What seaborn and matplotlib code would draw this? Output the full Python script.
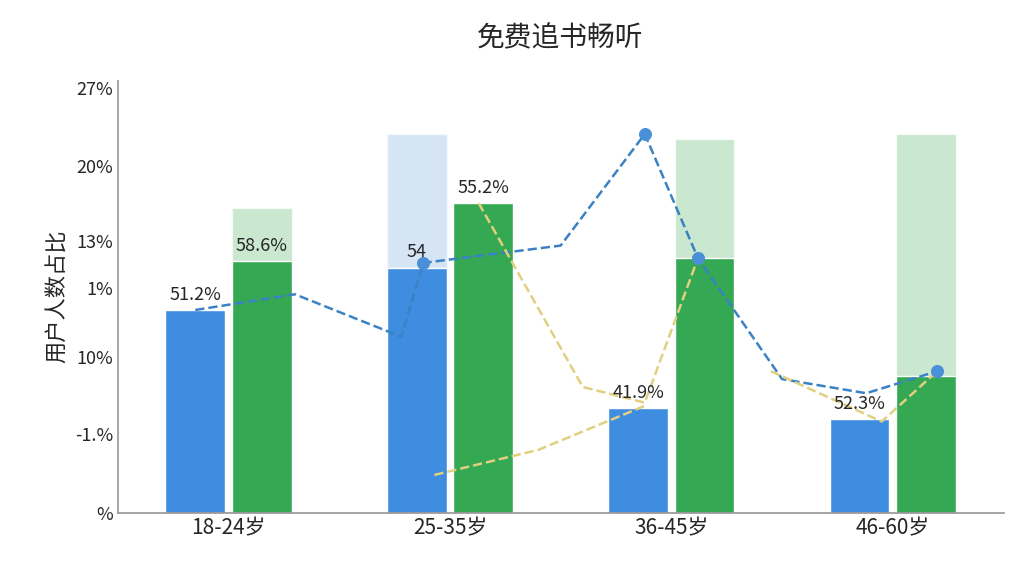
import matplotlib
matplotlib.use("Agg")
import matplotlib.pyplot as plt
import seaborn as sns
import numpy as np
import pandas as pd

sns.set_theme(style="white")
plt.rcParams['font.family'] = ['Noto Sans CJK SC', 'DejaVu Sans']

categories = ["18-24岁", "25-35岁", "36-45岁", "46-60岁"]
blue_vals = [12.9, 15.6, 6.65, 5.96]
green_vals = [16.0, 19.7, 16.2, 8.7]
blue_bg = [0, 24.1, 0, 0]
green_bg = [19.4, 0, 23.8, 24.1]
blue_labels = ["51.2%", "54", "41.9%", "52.3%"]
green_labels = ["58.6%", "55.2%", "", ""]
ytick_pos = [0, 5.0, 9.9, 14.3, 17.3, 22.05, 27]
ytick_labels = ["%", "-1.%", "10%", "1%", "13%", "20%", "27%"]
blue_line_x = [-0.15, 0.3, 0.78, 0.88, 1.5, 1.88, 2.12, 2.5, 2.88, 3.2]
blue_line_y = [12.9, 13.9, 11.2, 15.9, 17.0, 24.1, 16.2, 8.5, 7.6, 9.0]
yellow1_x = [1.13, 1.6, 1.88, 2.12]
yellow1_y = [19.7, 8.0, 7.0, 16.2]
yellow2_x = [0.93, 1.4, 1.88]
yellow2_y = [2.4, 4.0, 6.8]
yellow3_x = [2.45, 2.95, 3.2]
yellow3_y = [9.0, 5.8, 9.0]

fig, ax = plt.subplots(figsize=(10.24, 5.76), dpi=100)
x = np.arange(len(categories))
w = 0.27
ax.bar(x - 0.15, blue_bg, w, color="#bcd4ee", alpha=0.6, zorder=1)
ax.bar(x + 0.15, green_bg, w, color="#a8d8b0", alpha=0.6, zorder=1)
df = pd.DataFrame({"x": np.concatenate([x - 0.15, x + 0.15]),
                   "v": blue_vals + green_vals})
ax.bar(x - 0.15, blue_vals, w, color="#3f8de0", zorder=2)
ax.bar(x + 0.15, green_vals, w, color="#34a853", zorder=2)
for xi, v, l in zip(x - 0.15, blue_vals, blue_labels):
    ax.text(xi, v + 0.4, l, ha="center", va="bottom", fontsize=13, zorder=5)
for xi, v, l in zip(x + 0.15, green_vals, green_labels):
    if l:
        ax.text(xi, v + 0.4, l, ha="center", va="bottom", fontsize=13, zorder=5)

sns.lineplot(x=blue_line_x, y=blue_line_y, ax=ax, color="#3b82c4", linestyle="--", lw=1.8, zorder=4, sort=False)
ax.scatter([0.88, 1.88, 2.12, 3.2], [15.9, 24.1, 16.2, 9.0], color="#4a90d9", s=70, zorder=5)
for xs, ys in [(yellow1_x, yellow1_y), (yellow2_x, yellow2_y), (yellow3_x, yellow3_y)]:
    sns.lineplot(x=xs, y=ys, ax=ax, color="#e0d080", linestyle="--", lw=1.8, zorder=4, sort=False)

ax.set_xlim(-0.5, 3.5)
ax.set_ylim(0, 27.5)
ax.set_xticks(x)
ax.set_xticklabels(categories, fontsize=15)
ax.set_yticks(ytick_pos)
ax.set_yticklabels(ytick_labels, fontsize=13)
ax.set_ylabel("用户人数占比", fontsize=16)
ax.set_title("免费追书畅听", fontsize=20, pad=25)
for s in ["top", "right"]:
    ax.spines[s].set_visible(False)
ax.spines["left"].set_color("#999")
ax.spines["bottom"].set_color("#999")
ax.tick_params(axis="both", length=0)
fig.subplots_adjust(left=0.115, right=0.98, top=0.86, bottom=0.11)
fig.savefig("out.png")
